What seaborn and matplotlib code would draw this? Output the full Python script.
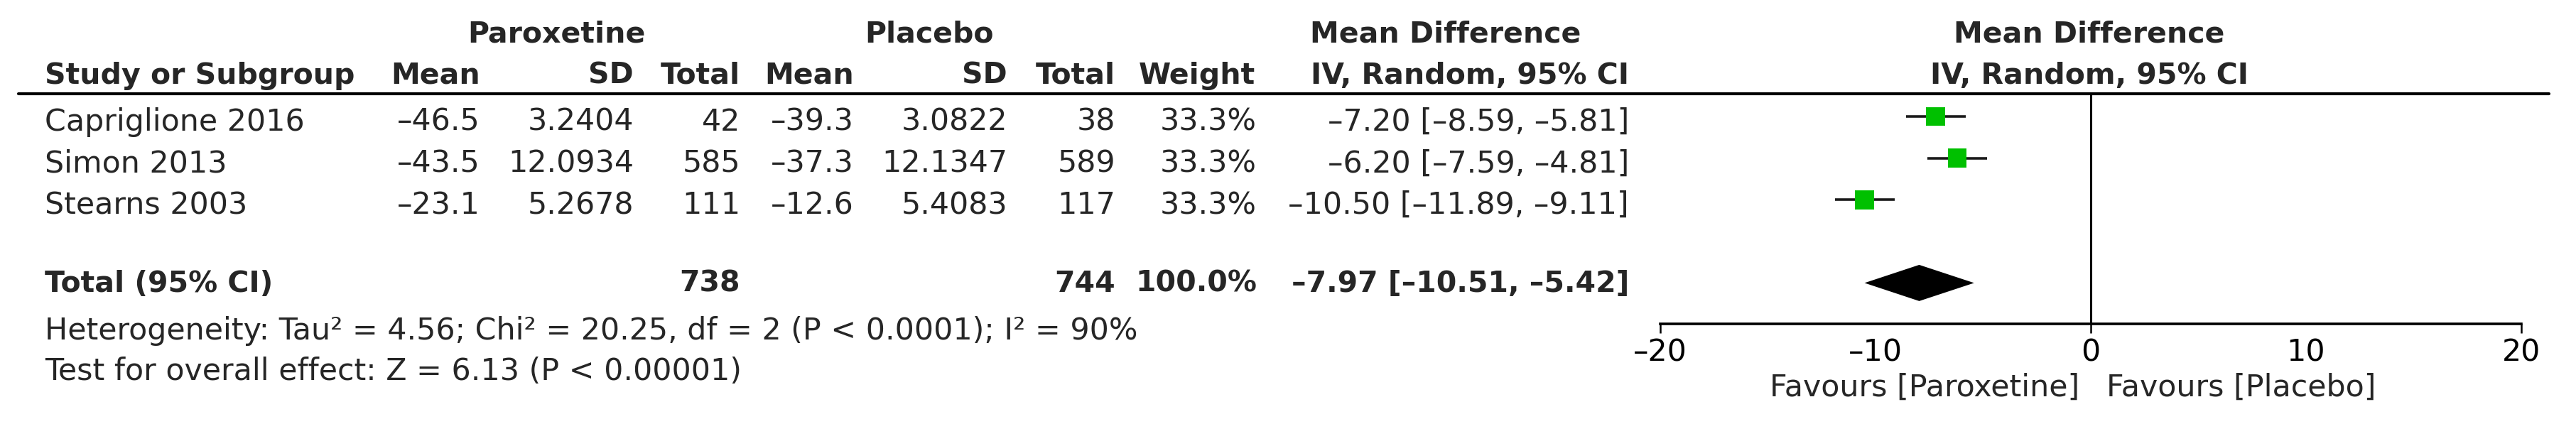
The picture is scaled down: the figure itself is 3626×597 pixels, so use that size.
import numpy as np
import pandas as pd
import seaborn as sns
import matplotlib.pyplot as plt
import matplotlib.transforms as mtransforms
from matplotlib.lines import Line2D

# study data
studies = ['Capriglione 2016', 'Simon 2013', 'Stearns 2003']
par_mean = [-46.5, -43.5, -23.1]
par_sd = [3.2404, 12.0934, 5.2678]
par_n = [42, 585, 111]
pla_mean = [-39.3, -37.3, -12.6]
pla_sd = [3.0822, 12.1347, 5.4083]
pla_n = [38, 589, 117]
weights = [33.3, 33.3, 33.3]
md = [-7.20, -6.20, -10.50]
ci_lo = [-8.59, -7.59, -11.89]
ci_hi = [-5.81, -4.81, -9.11]

# pooled result
tot_par_n = 738
tot_pla_n = 744
tot_weight = 100.0
tot_md = -7.97
tot_lo = -10.51
tot_hi = -5.42

heterogeneity = ('Heterogeneity: Tau\u00b2 = 4.56; Chi\u00b2 = 20.25, df = 2 '
                 '(P < 0.0001); I\u00b2 = 90%')
overall = 'Test for overall effect: Z = 6.13 (P < 0.00001)'
axis_ticks = [-20, -10, 0, 10, 20]
favours = ['Favours [Paroxetine]', 'Favours [Placebo]']

W, H = 3626, 597
FS = 30.8      # regular text
FB = 29.5      # bold text


def fx(x):
    return x / W


def fy(y):
    return 1 - y / H


def num(v, d):
    # RevMan prints a short dash for negative numbers
    return f'{v:.{d}f}'.replace('-', '\u2013')


sns.set_style('white')
plt.rcParams['font.family'] = ['DejaVu Sans']

fig = plt.figure(figsize=(W / 100, H / 100), dpi=100)
ax = fig.add_axes([fx(2337), fy(456), fx(3549) - fx(2337), fy(132) - fy(456)])

rows = list(range(len(studies)))
total_row = len(studies) + 1
df = pd.DataFrame({'study': studies, 'row': rows, 'md': md,
                   'lo': ci_lo, 'hi': ci_hi})

# confidence intervals and squares
ax.hlines(df['row'], df['lo'], df['hi'], color='#1a1a1a', lw=2.6, zorder=2)
sns.scatterplot(data=df, x='md', y='row', marker='s', s=370, color='#00c000',
                edgecolor='none', linewidth=0, ax=ax, zorder=3, legend=False)

# pooled diamond
dh = 0.435
ax.fill([tot_lo, tot_md, tot_hi, tot_md],
        [total_row, total_row - dh, total_row, total_row + dh],
        color='black', lw=0, zorder=3)

ax.axvline(0, color='black', lw=2.2, zorder=1)
ax.set_xlim(axis_ticks[0], axis_ticks[-1])
ax.set_ylim(4.983, -0.546)
ax.set_xticks(axis_ticks)
ax.set_xticklabels([num(t, 0) for t in axis_ticks])
ax.set_yticks([])
ax.set_xlabel('')
ax.set_ylabel('')
for s in ['top', 'left', 'right']:
    ax.spines[s].set_visible(False)
ax.spines['bottom'].set_linewidth(2.6)
ax.spines['bottom'].set_color('black')
ax.tick_params(axis='x', direction='in', length=9.5, width=1.8, pad=14,
               labelsize=FS, colors='black')
ax.vlines([axis_ticks[0], 0, axis_ticks[-1]], -0.04, 0.0,
          transform=ax.get_xaxis_transform(), color='black', lw=1.8,
          clip_on=False)
ax.patch.set_alpha(0)

# table text
tr = mtransforms.blended_transform_factory(fig.transFigure, ax.transData)
off = 0.341
cols = [(676, [num(v, 1) for v in par_mean]),
        (892, [num(v, 4) for v in par_sd]),
        (1042, [str(v) for v in par_n]),
        (1202, [num(v, 1) for v in pla_mean]),
        (1418, [num(v, 4) for v in pla_sd]),
        (1570, [str(v) for v in pla_n]),
        (1769, [f'{v:.1f}%' for v in weights]),
        (2293, [f'{num(m, 2)} [{num(a, 2)}, {num(b, 2)}]'
                for m, a, b in zip(md, ci_lo, ci_hi)])]
for r, name in zip(rows, studies):
    fig.text(fx(63), r + off, name, transform=tr, fontsize=FS, va='baseline')
for x, vals in cols:
    for r, v in zip(rows, vals):
        fig.text(fx(x), r + off, v, transform=tr, fontsize=FS,
                 ha='right', va='baseline')

# total row
toff = 0.215
fig.text(fx(63), total_row + toff, 'Total (95% CI)', transform=tr,
         fontsize=FB, fontweight='bold', va='baseline')
for x, v in [(1042, str(tot_par_n)), (1570, str(tot_pla_n)),
             (1769, f'{tot_weight:.1f}%'),
             (2293, f'{num(tot_md, 2)} [{num(tot_lo, 2)}, {num(tot_hi, 2)}]')]:
    fig.text(fx(x), total_row + toff, v, transform=tr, fontsize=FB,
             fontweight='bold', ha='right', va='baseline')

# headers
hb = dict(fontsize=FB, fontweight='bold', va='baseline')
fig.text(fx(783), fy(59), 'Paroxetine', ha='center', **hb)
fig.text(fx(1308), fy(59), 'Placebo', ha='center', **hb)
fig.text(fx(2035), fy(59), 'Mean Difference', ha='center', **hb)
fig.text(fx(2941), fy(59), 'Mean Difference', ha='center', **hb)
fig.text(fx(63), fy(118), 'Study or Subgroup', ha='left', **hb)
for x, lab in [(676, 'Mean'), (892, 'SD'), (1042, 'Total'), (1202, 'Mean'),
               (1418, 'SD'), (1570, 'Total'), (1767, 'Weight'),
               (2293, 'IV, Random, 95% CI')]:
    fig.text(fx(x), fy(118), lab, ha='right', **hb)
fig.text(fx(2941), fy(118), 'IV, Random, 95% CI', ha='center', **hb)

fig.add_artist(Line2D([fx(26), fx(3588)], [fy(132), fy(132)],
                      color='black', lw=3))

# footer
fig.text(fx(63), fy(478), heterogeneity, fontsize=FS, va='baseline')
fig.text(fx(63), fy(535), overall, fontsize=FS, va='baseline')
fig.text(fx(2927), fy(558), favours[0], fontsize=FS, ha='right', va='baseline')
fig.text(fx(2965), fy(558), favours[1], fontsize=FS, ha='left', va='baseline')

fig.savefig('out.png', dpi=100, facecolor='white')
